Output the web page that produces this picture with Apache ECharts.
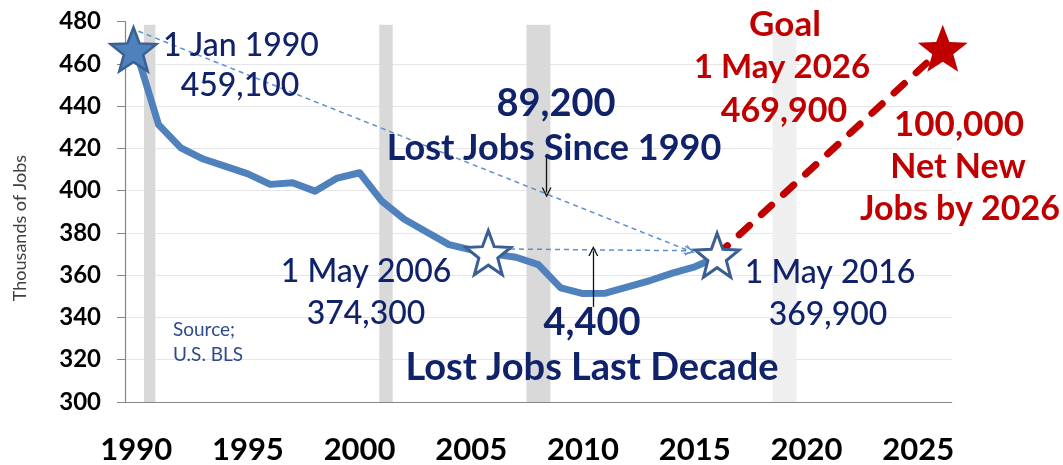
<!DOCTYPE html>
<html><head><meta charset="utf-8">
<script src="https://cdn.jsdelivr.net/npm/echarts@6/dist/echarts.min.js"></script>
<style>html,body{margin:0;padding:0;background:#fff}#c{width:1063px;height:465px}</style>
</head><body><div id="c"></div>
<script>
// ---- data ----
const categories = ['1990','1991','1992','1993','1994','1995','1996','1997','1998','1999','2000','2001','2002','2003','2004','2005','2006','2007','2008','2009','2010','2011','2012','2013','2014','2015','2016','2017','2018','2019','2020','2021','2022','2023','2024','2025','2026'];
const yTicks = [300,320,340,360,380,400,420,440,460,480];
const jobYears = [1990,1991,1992,1993,1994,1995,1996,1997,1998,1999,2000,2001,2002,2003,2004,2005,2006,2007,2008,2009,2010,2011,2012,2013,2014,2015,2016];
const jobValues = [466,431.3,420.3,415,411.5,408,403,403.8,399.8,406,408.5,395,386.5,380.5,374.5,372,370,368.5,365,354,351.3,351.5,354.5,357.5,361,364,368.5];
const milestoneX = [1989.88, 2005.76, 2016.0];
const milestoneY = [466.9, 370.7, 369.5];
const goalX = [2016.0, 2026.1];
const goalY = [369.5, 467.4];
const recessionStart = [1990.35, 2000.88, 2007.47, 2018.48];
const recessionEnd   = [1990.86, 2001.48, 2008.54, 2019.55];
const recessionTop   = [478.5, 478.5, 478.5, 475];
const dashedArrowFrom = [[1990.1, 475.5], [2006.73, 372.4]];
const dashedArrowTo   = [[2014.78, 371.4], [2014.78, 371.6]];
const blackArrowFrom  = [[2008.37, 415.7], [2010.46, 345]];
const blackArrowTo    = [[2008.37, 399.2], [2010.46, 371.5]];

// ---- styles ----
const NAVY = '#10226a', RED = '#c00000', BLUE = '#4f81bd', STARBORDER = '#3b5f92';
const starPath = 'path://M50,0 L62.5,33 L97.55,34.55 L70,56.5 L79.39,90.45 L50,71 L20.61,90.45 L30,56.5 L2.45,34.55 L37.5,33 Z';
const vArrow = 'path://M0,10 L5,0 L10,10 L8.6,10 L5,2.8 L1.4,10 Z';
const REG = '500 32px Lato, sans-serif';
const BOLD = (s) => 'bold ' + s + 'px Lato, sans-serif';

const texts = [
  {t:'1 Jan 1990', x:241, y:46, f:REG, c:NAVY},
  {t:'459,100', x:240, y:86, f:REG, c:NAVY},
  {t:'1 May 2006', x:366, y:272, f:REG, c:NAVY},
  {t:'374,300', x:366, y:314, f:REG, c:NAVY},
  {t:'1 May 2016', x:830, y:273, f:REG, c:NAVY},
  {t:'369,900', x:828, y:315, f:REG, c:NAVY},
  {t:'89,200', x:556, y:104, f:BOLD(38), c:NAVY},
  {t:'Lost Jobs Since 1990', x:554, y:148, f:BOLD(36), c:NAVY},
  {t:'4,400', x:592, y:323, f:BOLD(38), c:NAVY},
  {t:'Lost Jobs Last Decade', x:592, y:368, f:BOLD(38), c:NAVY},
  {t:'Goal', x:785, y:25, f:BOLD(35), c:RED},
  {t:'1 May 2026', x:782, y:67, f:BOLD(33), c:RED},
  {t:'469,900', x:784, y:111, f:BOLD(34), c:RED},
  {t:'100,000', x:959, y:125, f:BOLD(35), c:RED},
  {t:'Net New', x:958, y:167, f:BOLD(34), c:RED},
  {t:'Jobs by 2026', x:960, y:209, f:BOLD(34), c:RED}
];

const graphics = texts.map(o => ({
  type:'text', x:o.x, y:o.y, z:100, silent:true,
  style:{text:o.t, fill:o.c, font:o.f, textAlign:'center', textVerticalAlign:'middle'}
}));
graphics.push({type:'text', x:173, y:330, z:100, style:{text:'Source;', fill:'#2c4a8c', font:'19px Lato, sans-serif', textAlign:'left', textVerticalAlign:'middle'}});
graphics.push({type:'text', x:173, y:355, z:100, style:{text:'U.S. BLS', fill:'#2c4a8c', font:'19px Lato, sans-serif', textAlign:'left', textVerticalAlign:'middle'}});
graphics.push({type:'text', x:20, y:228, rotation:Math.PI/2, z:100, style:{text:'Thousands of Jobs', fill:'#404040', font:'18px Lato, sans-serif', textAlign:'center', textVerticalAlign:'middle'}});

const recessionAreas = recessionStart.map((s,i) => [
  {xAxis:s, yAxis:300, itemStyle:{color: i===3 ? '#efefef' : '#d9d9d9'}},
  {xAxis:recessionEnd[i], yAxis:recessionTop[i]}
]);
const arrowLines = [];
dashedArrowFrom.forEach((p,i) => arrowLines.push([
  {coord:p, symbol:'none', lineStyle:{color:'#5b8fd0', width:1.5, type:[5,4]}},
  {coord:dashedArrowTo[i], symbol:vArrow, symbolSize:[10,10]}
]));
blackArrowFrom.forEach((p,i) => arrowLines.push([
  {coord:p, symbol:'none', lineStyle:{color:'#111', width:1.3, type:'solid'}},
  {coord:blackArrowTo[i], symbol:vArrow, symbolSize:[10,10]}
]));

const chart = echarts.init(document.getElementById('c'));
chart.setOption({
  animation:false,
  grid:{left:125, right:111.3, top:21.7, bottom:61.7, containLabel:false},
  xAxis:[
    {type:'category', data:categories, boundaryGap:true,
     axisLine:{lineStyle:{color:'#868686', width:1.2}},
     axisTick:{interval:0, length:12, lineStyle:{color:'#868686'}},
     axisLabel:{interval:4, margin:32, color:'#000', fontFamily:'Lato', fontWeight:'bold', fontSize:31},
     splitLine:{show:false}},
    {type:'value', min:1989.5, max:2026.5, show:false}
  ],
  yAxis:{type:'value', min:yTicks[0], max:yTicks[yTicks.length-1], interval:20,
     axisLine:{show:true, lineStyle:{color:'#868686', width:1.2}},
     axisTick:{show:true, length:8, lineStyle:{color:'#868686'}},
     axisLabel:{margin:24, color:'#000', fontFamily:'Lato', fontWeight:'bold', fontSize:24},
     splitLine:{show:true, showMaxLine:false, lineStyle:{color:'#e6e6e6', width:1}}},
  graphic:graphics,
  series:[
    {type:'line', name:'jobs', xAxisIndex:1, data:jobYears.map((y,i)=>[y,jobValues[i]]),
     symbol:'none', lineStyle:{color:BLUE, width:7, join:'round', cap:'round'}, z:3, silent:true,
     markArea:{silent:true, z:1, data:recessionAreas},
     markLine:{silent:true, z:4, symbol:['none','none'], label:{show:false}, data:arrowLines}},
    {type:'line', name:'goal', xAxisIndex:1, data:goalX.map((x,i)=>[x,goalY[i]]), symbol:'none',
     lineStyle:{color:RED, width:7, type:[14,16], cap:'round'}, z:4, silent:true},
    {type:'scatter', xAxisIndex:1, z:6, silent:true,
     data:[
       {value:[milestoneX[0],milestoneY[0]], symbolSize:[46,44], itemStyle:{color:BLUE, borderColor:STARBORDER, borderWidth:2.5, opacity:1}},
       {value:[milestoneX[1],milestoneY[1]], symbolSize:[45,44], itemStyle:{color:'#fff', borderColor:STARBORDER, borderWidth:3, opacity:1}},
       {value:[milestoneX[2],milestoneY[2]], symbolSize:[44,44], itemStyle:{color:'#fff', borderColor:STARBORDER, borderWidth:3, opacity:1}},
       {value:[goalX[1],goalY[1]], symbolSize:[50,47], itemStyle:{color:RED, opacity:1}}
     ], symbol:starPath}
  ]
});
</script></body></html>
